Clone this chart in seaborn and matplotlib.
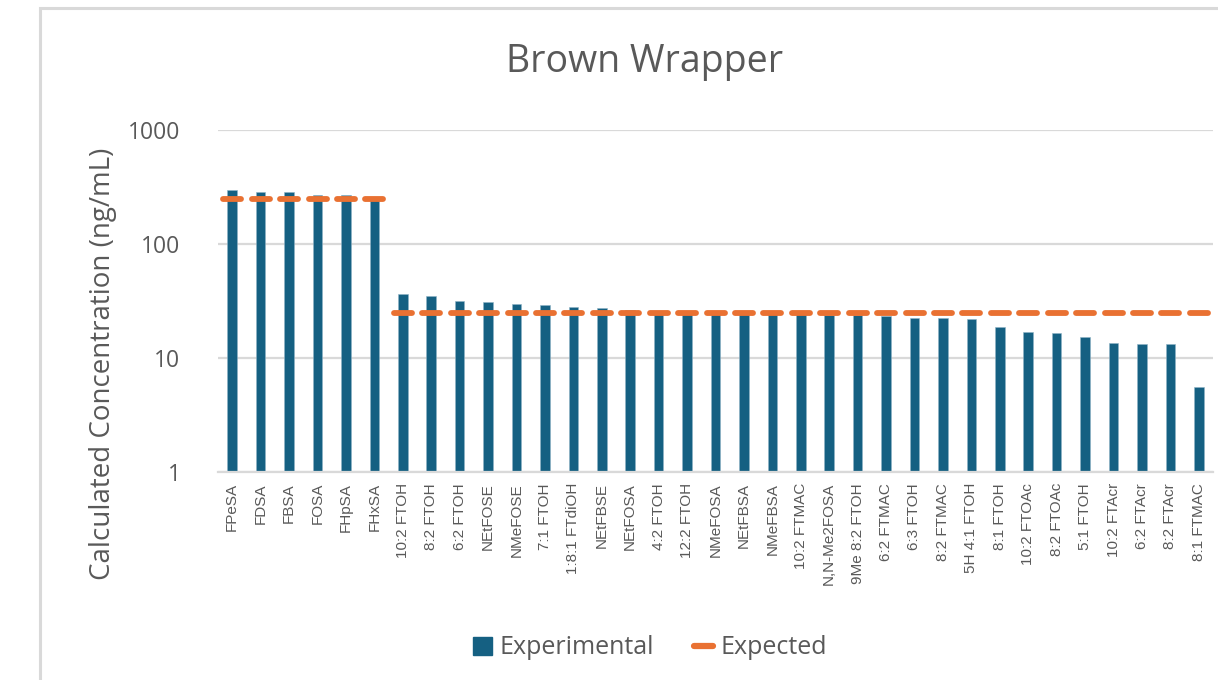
import matplotlib
matplotlib.use("Agg")
import matplotlib.pyplot as plt
import seaborn as sns
import pandas as pd
from matplotlib.markers import MarkerStyle
from matplotlib.patches import Patch, Rectangle
from matplotlib.lines import Line2D

# Compounds measured in the brown wrapper sample
compounds = [
    "FPeSA", "FDSA", "FBSA", "FOSA", "FHpSA", "FHxSA",
    "10:2 FTOH", "8:2 FTOH", "6:2 FTOH", "NEtFOSE", "NMeFOSE", "7:1 FTOH",
    "1:8:1 FTdiOH", "NEtFBSE", "NEtFOSA", "4:2 FTOH", "12:2 FTOH", "NMeFOSA",
    "NEtFBSA", "NMeFBSA", "10:2 FTMAC", "N,N-Me2FOSA", "9Me 8:2 FTOH",
    "6:2 FTMAC", "6:3 FTOH", "8:2 FTMAC", "5H 4:1 FTOH", "8:1 FTOH",
    "10:2 FTOAc", "8:2 FTOAc", "5:1 FTOH", "10:2 FTAcr", "6:2 FTAcr",
    "8:2 FTAcr", "8:1 FTMAC",
]

# Calculated concentrations (ng/mL)
experimental = [
    296, 288, 288, 269, 269, 245,
    36.2, 35.2, 31.8, 30.8, 29.9, 29.0,
    28.0, 27.3, 26.2, 25.0, 24.8, 24.6,
    24.5, 24.3, 24.2, 24.0, 23.9,
    23.5, 22.6, 22.6, 22.0, 18.7,
    16.9, 16.5, 15.4, 13.5, 13.2,
    13.2, 5.55,
]

# Spiked (expected) concentrations (ng/mL)
expected = [250] * 6 + [25] * 29

y_ticks = [1, 10, 100, 1000]
y_tick_labels = ["1", "10", "100", "1000"]

BLUE = "#156082"
ORANGE = "#E97132"
GRID = "#D9D9D9"
TEXT = "#595959"

df = pd.DataFrame({"Compound": compounds,
                   "Experimental": experimental,
                   "Expected": expected})

sns.set_theme(style="white")
plt.rcParams["font.family"] = ["Open Sans", "DejaVu Sans"]

fig = plt.figure(figsize=(12.18, 6.8), dpi=100)
ax = fig.add_axes([218 / 1218, 1 - 472 / 680, (1213 - 218) / 1218, (472 - 130) / 680])

sns.barplot(data=df, x="Compound", y="Experimental", color=BLUE,
            width=0.34, saturation=1, edgecolor="#8fb3c6", linewidth=0.4,
            ax=ax, zorder=2)

sns.pointplot(data=df, x="Compound", y="Expected", color=ORANGE,
              linestyle="none", marker="_", markersize=14,
              markeredgewidth=4, ax=ax, zorder=3)
for ln in ax.get_lines():
    ln.set_marker(MarkerStyle("_", capstyle="round"))
    ln.set_markersize(13.5)
    ln.set_markeredgewidth(4.2)

ax.set_yscale("log")
ax.set_ylim(1, 1000)
ax.set_xlim(-0.5, len(compounds) - 0.5)
ax.set_yticks(y_ticks)
ax.set_yticklabels(y_tick_labels)
ax.yaxis.set_minor_locator(matplotlib.ticker.NullLocator())
ax.tick_params(axis="y", length=0, pad=27, labelsize=16.5, labelcolor=TEXT)
ax.tick_params(axis="x", length=0, pad=8, labelsize=11, labelcolor=TEXT,
               labelrotation=90)
for lbl in ax.get_xticklabels():
    lbl.set_fontfamily(["Liberation Sans", "DejaVu Sans"])

ax.grid(axis="y", color=GRID, linewidth=1.6, zorder=0)
ax.set_axisbelow(True)
for side in ["top", "right", "left"]:
    ax.spines[side].set_visible(False)
ax.spines["bottom"].set_color(GRID)
ax.spines["bottom"].set_linewidth(1.6)
ax.set_xlabel("")
ax.set_ylabel("")

fig.text(103 / 1218, 1 - 364 / 680, "Calculated Concentration (ng/mL)",
         rotation=90, ha="center", va="center", fontsize=20, color=TEXT)
fig.text(645 / 1218, 1 - 62 / 680, "Brown Wrapper",
         ha="center", va="center", fontsize=27, color=TEXT)

handles = [
    Patch(facecolor=BLUE, edgecolor=BLUE, label="Experimental"),
    Line2D([0], [0], color=ORANGE, linewidth=4.5, solid_capstyle="round",
           label="Expected"),
]
fig.legend(handles=handles, loc="center", bbox_to_anchor=(650 / 1218, 1 - 648 / 680),
           ncol=2, frameon=False, fontsize=18, labelcolor=TEXT,
           handlelength=0.75, handleheight=0.75, handletextpad=0.3,
           columnspacing=1.6)

# Chart-area border along the visible top and left edges
fig.add_artist(Rectangle((40 / 1218, -0.1), 1.2, 1 - 8 / 680 + 0.1,
                         transform=fig.transFigure, fill=False,
                         edgecolor=GRID, linewidth=2.2))

fig.savefig("out.png", dpi=100, facecolor="white")
